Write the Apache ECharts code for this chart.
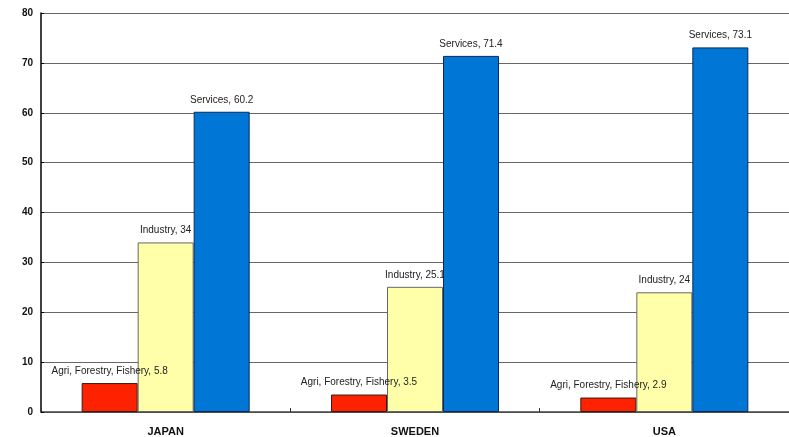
<!DOCTYPE html>
<html>
<head>
<meta charset="utf-8">
<script src="https://cdn.jsdelivr.net/npm/echarts@6/dist/echarts.min.js"></script>
<style>
  html, body { margin: 0; padding: 0; background: #fff; }
  #chart { width: 789px; height: 437px; }
</style>
</head>
<body>
<div id="chart"></div>
<script>
// Employment share by sector (%)
const countries = ['JAPAN', 'SWEDEN', 'USA'];
const agriculture = [5.8, 3.5, 2.9];
const industry = [34, 25.1, 24];
const services = [60.2, 71.4, 73.1];
const yTicks = { min: 0, max: 80, interval: 10 };

const chart = echarts.init(document.getElementById('chart'), null, { renderer: 'canvas' });

function sectorSeries(name, values, color, borderColor) {
  return {
    name: name,
    type: 'bar',
    data: values,
    barWidth: 56,
    barGap: '0%',
    itemStyle: { color: color, borderColor: borderColor, borderWidth: 1 },
    label: {
      show: true,
      position: 'top',
      distance: 7,
      formatter: p => name + ', ' + p.value,
      fontFamily: 'Liberation Sans, Arial, sans-serif',
      fontSize: 10,
      color: '#222'
    },
    animation: false
  };
}

chart.setOption({
  animation: false,
  grid: { left: 41, top: 13, right: -2, bottom: 25, containLabel: false },
  xAxis: {
    type: 'category',
    data: countries,
    axisLine: { lineStyle: { color: '#444', width: 1.5 } },
    axisTick: { show: true, inside: true, length: 4, lineStyle: { color: '#333' } },
    axisLabel: {
      fontFamily: 'Liberation Sans, Arial, sans-serif',
      fontWeight: 'bold',
      fontSize: 11,
      color: '#111',
      margin: 14
    }
  },
  yAxis: {
    type: 'value',
    min: yTicks.min,
    max: yTicks.max,
    interval: yTicks.interval,
    axisLine: { show: true, lineStyle: { color: '#000', width: 1.5 } },
    axisTick: { show: true, inside: true, length: 3, lineStyle: { color: '#000' } },
    axisLabel: {
      fontFamily: 'Liberation Sans, Arial, sans-serif',
      fontWeight: 'bold',
      fontSize: 10,
      color: '#111',
      margin: 8
    },
    splitLine: { show: true, lineStyle: { color: '#666', width: 1 } }
  },
  series: [
    sectorSeries('Agri, Forestry, Fishery', agriculture, '#FF2200', '#3a1a10'),
    sectorSeries('Industry', industry, '#FFFFAA', '#666'),
    sectorSeries('Services', services, '#0077D6', '#0a2a55')
  ]
});
</script>
</body>
</html>
